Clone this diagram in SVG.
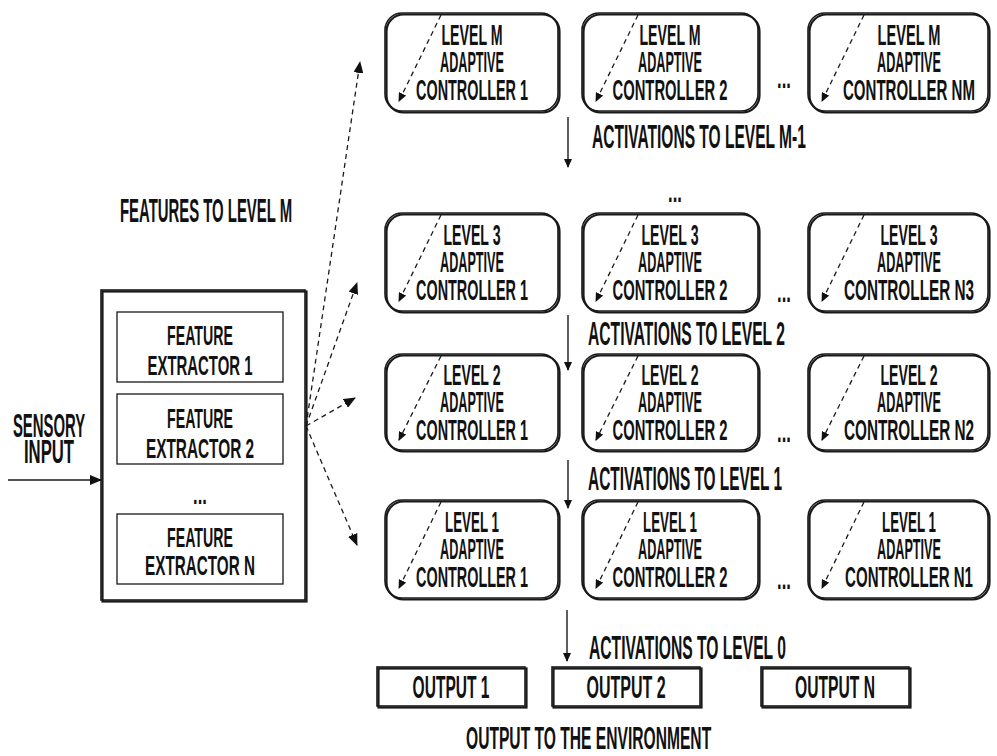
<svg xmlns="http://www.w3.org/2000/svg" width="997" height="756" viewBox="0 0 997 756">
<style>
.bg{fill:#fff}
.box{fill:none;stroke:#1a1a1a;stroke-width:1.6}
.sh{fill:none;stroke:#1a1a1a;stroke-width:2.2}
.fe{fill:none;stroke:#1a1a1a;stroke-width:1.3}
text{font-family:"Liberation Sans",Arial,sans-serif;font-weight:bold;fill:#111}
.t{font-size:30px;text-anchor:middle}
.tl{font-size:33px;text-anchor:start}
.tf{font-size:28px;text-anchor:middle}
.to{font-size:31px;text-anchor:middle}
.dash{fill:none;stroke:#1a1a1a;stroke-width:1.3;stroke-dasharray:5 4}
.solid{fill:none;stroke:#1a1a1a;stroke-width:1.4}
</style>
<defs>
<marker id="ah" markerUnits="userSpaceOnUse" markerWidth="12" markerHeight="10" refX="11" refY="5" orient="auto">
<path d="M0,0 L12,5 L0,10 z" fill="#111"/>
</marker>
<marker id="ahs" markerUnits="userSpaceOnUse" markerWidth="9" markerHeight="8" refX="8" refY="4" orient="auto">
<path d="M0,0 L9,4 L0,8 z" fill="#111"/>
</marker>
</defs>
<rect class="bg" x="0" y="0" width="997" height="756"/>

<!-- Level M -->
<g id="cM1">
<rect class="sh" x="386.5" y="14.5" width="173" height="98" rx="17"/>
<rect class="box" x="385" y="13" width="173" height="98" rx="17"/>
<line class="dash" x1="441" y1="15" x2="399" y2="101" marker-end="url(#ahs)"/>
<g transform="translate(472,0) scale(0.46,1)"><text class="t"><tspan x="0" y="45" textLength="133" lengthAdjust="spacingAndGlyphs">LEVEL M</tspan><tspan x="0" y="72" textLength="139" lengthAdjust="spacingAndGlyphs">ADAPTIVE</tspan><tspan x="0" y="100" textLength="243" lengthAdjust="spacingAndGlyphs">CONTROLLER 1</tspan></text></g>
</g>
<g id="cM2">
<rect class="sh" x="583.5" y="14.5" width="176" height="98" rx="17"/>
<rect class="box" x="582" y="13" width="176" height="98" rx="17"/>
<line class="dash" x1="638" y1="15" x2="596" y2="101" marker-end="url(#ahs)"/>
<g transform="translate(670,0) scale(0.46,1)"><text class="t"><tspan x="0" y="45" textLength="133" lengthAdjust="spacingAndGlyphs">LEVEL M</tspan><tspan x="0" y="72" textLength="139" lengthAdjust="spacingAndGlyphs">ADAPTIVE</tspan><tspan x="0" y="100" textLength="250" lengthAdjust="spacingAndGlyphs">CONTROLLER 2</tspan></text></g>
</g>
<g transform="translate(784,0) scale(0.46,1)"><text class="t" x="0" y="88" textLength="30" lengthAdjust="spacingAndGlyphs">...</text></g>
<g id="cMN">
<rect class="sh" x="809.5" y="14.5" width="180" height="98" rx="17"/>
<rect class="box" x="808" y="13" width="180" height="98" rx="17"/>
<line class="dash" x1="864" y1="15" x2="822" y2="101" marker-end="url(#ahs)"/>
<g transform="translate(909,0) scale(0.46,1)"><text class="t"><tspan x="0" y="45" textLength="137" lengthAdjust="spacingAndGlyphs">LEVEL M</tspan><tspan x="0" y="72" textLength="139" lengthAdjust="spacingAndGlyphs">ADAPTIVE</tspan><tspan x="0" y="100" textLength="287" lengthAdjust="spacingAndGlyphs">CONTROLLER NM</tspan></text></g>
</g>

<!-- Level 3 -->
<g id="c31">
<rect class="sh" x="386.5" y="214.5" width="173" height="98" rx="17"/>
<rect class="box" x="385" y="213" width="173" height="98" rx="17"/>
<line class="dash" x1="441" y1="215" x2="399" y2="301" marker-end="url(#ahs)"/>
<g transform="translate(472,0) scale(0.46,1)"><text class="t"><tspan x="0" y="245" textLength="124" lengthAdjust="spacingAndGlyphs">LEVEL 3</tspan><tspan x="0" y="272" textLength="139" lengthAdjust="spacingAndGlyphs">ADAPTIVE</tspan><tspan x="0" y="300" textLength="243" lengthAdjust="spacingAndGlyphs">CONTROLLER 1</tspan></text></g>
</g>
<g id="c32">
<rect class="sh" x="583.5" y="214.5" width="176" height="98" rx="17"/>
<rect class="box" x="582" y="213" width="176" height="98" rx="17"/>
<line class="dash" x1="638" y1="215" x2="596" y2="301" marker-end="url(#ahs)"/>
<g transform="translate(670,0) scale(0.46,1)"><text class="t"><tspan x="0" y="245" textLength="124" lengthAdjust="spacingAndGlyphs">LEVEL 3</tspan><tspan x="0" y="272" textLength="139" lengthAdjust="spacingAndGlyphs">ADAPTIVE</tspan><tspan x="0" y="300" textLength="250" lengthAdjust="spacingAndGlyphs">CONTROLLER 2</tspan></text></g>
</g>
<g transform="translate(784,0) scale(0.46,1)"><text class="t" x="0" y="302" textLength="30" lengthAdjust="spacingAndGlyphs">...</text></g>
<g id="c3N">
<rect class="sh" x="809.5" y="214.5" width="180" height="98" rx="17"/>
<rect class="box" x="808" y="213" width="180" height="98" rx="17"/>
<line class="dash" x1="864" y1="215" x2="822" y2="301" marker-end="url(#ahs)"/>
<g transform="translate(909,0) scale(0.46,1)"><text class="t"><tspan x="0" y="245" textLength="124" lengthAdjust="spacingAndGlyphs">LEVEL 3</tspan><tspan x="0" y="272" textLength="139" lengthAdjust="spacingAndGlyphs">ADAPTIVE</tspan><tspan x="0" y="300" textLength="283" lengthAdjust="spacingAndGlyphs">CONTROLLER N3</tspan></text></g>
</g>

<!-- Level 2 -->
<g id="c21">
<rect class="sh" x="386.5" y="355.5" width="173" height="96" rx="17"/>
<rect class="box" x="385" y="354" width="173" height="96" rx="17"/>
<line class="dash" x1="441" y1="356" x2="399" y2="440" marker-end="url(#ahs)"/>
<g transform="translate(472,0) scale(0.46,1)"><text class="t"><tspan x="0" y="385" textLength="124" lengthAdjust="spacingAndGlyphs">LEVEL 2</tspan><tspan x="0" y="412" textLength="139" lengthAdjust="spacingAndGlyphs">ADAPTIVE</tspan><tspan x="0" y="440" textLength="243" lengthAdjust="spacingAndGlyphs">CONTROLLER 1</tspan></text></g>
</g>
<g id="c22">
<rect class="sh" x="583.5" y="355.5" width="176" height="96" rx="17"/>
<rect class="box" x="582" y="354" width="176" height="96" rx="17"/>
<line class="dash" x1="638" y1="356" x2="596" y2="440" marker-end="url(#ahs)"/>
<g transform="translate(670,0) scale(0.46,1)"><text class="t"><tspan x="0" y="385" textLength="124" lengthAdjust="spacingAndGlyphs">LEVEL 2</tspan><tspan x="0" y="412" textLength="139" lengthAdjust="spacingAndGlyphs">ADAPTIVE</tspan><tspan x="0" y="440" textLength="250" lengthAdjust="spacingAndGlyphs">CONTROLLER 2</tspan></text></g>
</g>
<g transform="translate(784,0) scale(0.46,1)"><text class="t" x="0" y="442" textLength="30" lengthAdjust="spacingAndGlyphs">...</text></g>
<g id="c2N">
<rect class="sh" x="809.5" y="355.5" width="180" height="96" rx="17"/>
<rect class="box" x="808" y="354" width="180" height="96" rx="17"/>
<line class="dash" x1="864" y1="356" x2="822" y2="440" marker-end="url(#ahs)"/>
<g transform="translate(909,0) scale(0.46,1)"><text class="t"><tspan x="0" y="385" textLength="124" lengthAdjust="spacingAndGlyphs">LEVEL 2</tspan><tspan x="0" y="412" textLength="139" lengthAdjust="spacingAndGlyphs">ADAPTIVE</tspan><tspan x="0" y="440" textLength="283" lengthAdjust="spacingAndGlyphs">CONTROLLER N2</tspan></text></g>
</g>

<!-- Level 1 -->
<g id="c11">
<rect class="sh" x="386.5" y="501.5" width="173" height="98" rx="17"/>
<rect class="box" x="385" y="500" width="173" height="98" rx="17"/>
<line class="dash" x1="441" y1="502" x2="399" y2="588" marker-end="url(#ahs)"/>
<g transform="translate(472,0) scale(0.46,1)"><text class="t"><tspan x="0" y="532" textLength="117" lengthAdjust="spacingAndGlyphs">LEVEL 1</tspan><tspan x="0" y="559" textLength="139" lengthAdjust="spacingAndGlyphs">ADAPTIVE</tspan><tspan x="0" y="587" textLength="243" lengthAdjust="spacingAndGlyphs">CONTROLLER 1</tspan></text></g>
</g>
<g id="c12">
<rect class="sh" x="583.5" y="501.5" width="176" height="98" rx="17"/>
<rect class="box" x="582" y="500" width="176" height="98" rx="17"/>
<line class="dash" x1="638" y1="502" x2="596" y2="588" marker-end="url(#ahs)"/>
<g transform="translate(670,0) scale(0.46,1)"><text class="t"><tspan x="0" y="532" textLength="117" lengthAdjust="spacingAndGlyphs">LEVEL 1</tspan><tspan x="0" y="559" textLength="139" lengthAdjust="spacingAndGlyphs">ADAPTIVE</tspan><tspan x="0" y="587" textLength="250" lengthAdjust="spacingAndGlyphs">CONTROLLER 2</tspan></text></g>
</g>
<g transform="translate(784,0) scale(0.46,1)"><text class="t" x="0" y="589" textLength="30" lengthAdjust="spacingAndGlyphs">...</text></g>
<g id="c1N">
<rect class="sh" x="809.5" y="501.5" width="180" height="98" rx="17"/>
<rect class="box" x="808" y="500" width="180" height="98" rx="17"/>
<line class="dash" x1="864" y1="502" x2="822" y2="588" marker-end="url(#ahs)"/>
<g transform="translate(909,0) scale(0.46,1)"><text class="t"><tspan x="0" y="532" textLength="117" lengthAdjust="spacingAndGlyphs">LEVEL 1</tspan><tspan x="0" y="559" textLength="139" lengthAdjust="spacingAndGlyphs">ADAPTIVE</tspan><tspan x="0" y="587" textLength="278" lengthAdjust="spacingAndGlyphs">CONTROLLER N1</tspan></text></g>
</g>

<g transform="translate(675,0) scale(0.46,1)"><text class="t" x="0" y="202" textLength="30" lengthAdjust="spacingAndGlyphs">...</text></g>

<!-- Feature extractor block -->
<g id="extractors">
<rect class="sh" x="102.5" y="291.5" width="204" height="310"/>
<rect class="box" x="101" y="290" width="204" height="310"/>
</g>
<g id="fe1">
<rect class="fe" x="117" y="312" width="166" height="70"/>
<g transform="translate(200,0) scale(0.46,1)"><text class="tf"><tspan x="0" y="345" textLength="143" lengthAdjust="spacingAndGlyphs">FEATURE</tspan><tspan x="0" y="375" textLength="228" lengthAdjust="spacingAndGlyphs">EXTRACTOR 1</tspan></text></g>
</g>
<g id="fe2">
<rect class="fe" x="117" y="394" width="166" height="70"/>
<g transform="translate(200,0) scale(0.46,1)"><text class="tf"><tspan x="0" y="428" textLength="143" lengthAdjust="spacingAndGlyphs">FEATURE</tspan><tspan x="0" y="458" textLength="235" lengthAdjust="spacingAndGlyphs">EXTRACTOR 2</tspan></text></g>
</g>
<g transform="translate(200,0) scale(0.46,1)"><text class="tf" x="0" y="504" textLength="30" lengthAdjust="spacingAndGlyphs">...</text></g>
<g id="feN">
<rect class="fe" x="117" y="514" width="166" height="70"/>
<g transform="translate(200,0) scale(0.46,1)"><text class="tf"><tspan x="0" y="547" textLength="143" lengthAdjust="spacingAndGlyphs">FEATURE</tspan><tspan x="0" y="575" textLength="239" lengthAdjust="spacingAndGlyphs">EXTRACTOR N</tspan></text></g>
</g>

<!-- Outputs -->
<g id="out1">
<rect class="sh" x="378.5" y="668.5" width="148" height="39"/>
<rect class="box" x="377" y="667" width="148" height="39"/>
<g transform="translate(451,0) scale(0.46,1)"><text class="to" x="0" y="698" textLength="167" lengthAdjust="spacingAndGlyphs">OUTPUT 1</text></g>
</g>
<g id="out2">
<rect class="sh" x="553.5" y="668.5" width="148" height="39"/>
<rect class="box" x="552" y="667" width="148" height="39"/>
<g transform="translate(626,0) scale(0.46,1)"><text class="to" x="0" y="698" textLength="172" lengthAdjust="spacingAndGlyphs">OUTPUT 2</text></g>
</g>
<g id="outN">
<rect class="sh" x="762.5" y="668.5" width="148" height="39"/>
<rect class="box" x="761" y="667" width="148" height="39"/>
<g transform="translate(835,0) scale(0.46,1)"><text class="to" x="0" y="698" textLength="174" lengthAdjust="spacingAndGlyphs">OUTPUT N</text></g>
</g>

<!-- Labels -->
<g transform="translate(120,0) scale(0.46,1)"><text class="tl" x="0" y="222" textLength="374" lengthAdjust="spacingAndGlyphs">FEATURES TO LEVEL M</text></g>
<g transform="translate(49,0) scale(0.46,1)"><text class="tl" style="text-anchor:middle"><tspan x="0" y="437" textLength="157" lengthAdjust="spacingAndGlyphs">SENSORY</tspan><tspan x="0" y="463" textLength="109" lengthAdjust="spacingAndGlyphs">INPUT</tspan></text></g>
<g transform="translate(592,0) scale(0.46,1)"><text class="tl" x="0" y="148" textLength="465" lengthAdjust="spacingAndGlyphs">ACTIVATIONS TO LEVEL M-1</text></g>
<g transform="translate(588,0) scale(0.46,1)"><text class="tl" x="0" y="345" textLength="428" lengthAdjust="spacingAndGlyphs">ACTIVATIONS TO LEVEL 2</text></g>
<g transform="translate(588,0) scale(0.46,1)"><text class="tl" x="0" y="490" textLength="422" lengthAdjust="spacingAndGlyphs">ACTIVATIONS TO LEVEL 1</text></g>
<g transform="translate(589,0) scale(0.46,1)"><text class="tl" x="0" y="659" textLength="428" lengthAdjust="spacingAndGlyphs">ACTIVATIONS TO LEVEL 0</text></g>
<g transform="translate(466,0) scale(0.46,1)"><text class="tl" style="font-size:31px" x="0" y="749" textLength="533" lengthAdjust="spacingAndGlyphs">OUTPUT TO THE ENVIRONMENT</text></g>

<!-- Connectors -->
<g id="connectors">
<line class="solid" x1="8" y1="480" x2="101" y2="480" marker-end="url(#ah)"/>
<line class="dash" x1="306" y1="426" x2="360" y2="62" marker-end="url(#ah)"/>
<line class="dash" x1="306" y1="426" x2="357" y2="283" marker-end="url(#ah)"/>
<line class="dash" x1="306" y1="426" x2="355" y2="398" marker-end="url(#ah)"/>
<line class="dash" x1="306" y1="426" x2="357" y2="545" marker-end="url(#ah)"/>
<line class="solid" x1="568" y1="117" x2="568" y2="167" marker-end="url(#ahs)"/>
<line class="solid" x1="568" y1="315" x2="568" y2="370" marker-end="url(#ahs)"/>
<line class="solid" x1="568" y1="460" x2="568" y2="508" marker-end="url(#ahs)"/>
<line class="solid" x1="567" y1="610" x2="567" y2="661" marker-end="url(#ahs)"/>
</g>
</svg>
